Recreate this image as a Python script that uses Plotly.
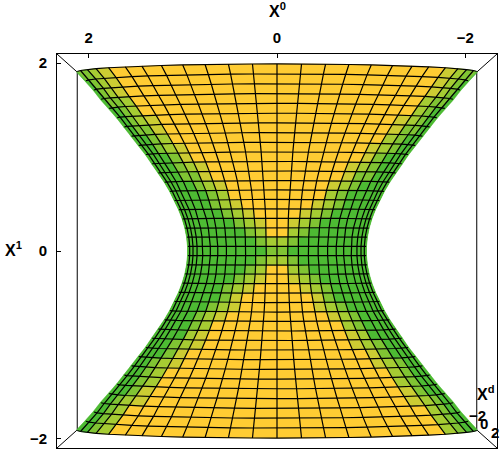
import plotly.graph_objects as go

# rows of the grid, upper half (X1 level and half width of that ring)
x1_upper = [0.051, 0.154, 0.256, 0.359, 0.462, 0.564, 0.667, 0.769, 0.872, 0.974,
            1.077, 1.179, 1.282, 1.385, 1.487, 1.590, 1.692, 1.795, 1.897, 2.0]
ring_upper = [1.00, 1.01, 1.03, 1.06, 1.10, 1.15, 1.20, 1.26, 1.33, 1.40,
              1.47, 1.55, 1.63, 1.71, 1.79, 1.88, 1.97, 2.05, 2.14, 2.236]

# meridians: share of the ring width across, and share of it towards the viewer
col_across = [0.0, 0.117, 0.232, 0.344, 0.452, 0.556, 0.652, 0.735, 0.82, 0.885, 0.932, 0.971, 0.993, 1.0]
col_depth = [1.0, 0.993, 0.971, 0.935, 0.885, 0.823, 0.749, 0.663, 0.568, 0.465, 0.355, 0.240, 0.120, 0.0]

# colour steps of |X0|-|X1|
step_edges = [-0.14, -0.05, 0.05, 0.16]
step_colors = ['#FFCC33', '#CCCC33', '#A6CC33', '#80C433', '#4DBB33']

tick_vals = [2, 0, -2]
tick_text = ['2', '0', '\u22122']

box_x = 2.337
box_y = 2.098
far_scale = 0.908
persp_a = 1.052
persp_b = 0.0215

rows_x1 = [-v for v in reversed(x1_upper)] + x1_upper
rows_w = list(reversed(ring_upper)) + ring_upper
cols_f = [-v for v in reversed(col_across[1:])] + col_across
cols_g = list(reversed(col_depth[1:])) + col_depth


def project(i, j):
    z = rows_w[i] * cols_g[j]
    s = 1 / (persp_a - persp_b * z)
    return rows_w[i] * cols_f[j] * s, rows_x1[i] * s


def cell_color(i, j):
    x0 = abs(rows_w[i] * (cols_f[j] + cols_f[j + 1]) / 2)
    x1 = abs(rows_x1[i] + rows_x1[i + 1]) / 2
    t = x0 - x1
    k = 0
    for e in step_edges:
        if t > e:
            k += 1
    return step_colors[k]


fig = go.Figure()

# back of the box
fx, fy = box_x * far_scale, box_y * far_scale
frame_x, frame_y = [], []
for sx in (-1, 1):
    frame_x += [sx * fx, sx * fx, None]
    frame_y += [fy, -fy, None]
    for sy in (-1, 1):
        frame_x += [sx * box_x, sx * fx, None]
        frame_y += [sy * box_y, sy * fy, None]
fig.add_trace(go.Scatter(x=frame_x, y=frame_y, mode='lines', line=dict(color='black', width=1), hoverinfo='skip'))

# cells, one trace per colour
cells = {c: ([], []) for c in step_colors}
for i in range(len(rows_x1) - 1):
    for j in range(len(cols_f) - 1):
        xs, ys = cells[cell_color(i, j)]
        for a, b in [(i, j), (i, j + 1), (i + 1, j + 1), (i + 1, j), (i, j)]:
            px, py = project(a, b)
            xs.append(px)
            ys.append(py)
        xs.append(None)
        ys.append(None)
for c in step_colors:
    fig.add_trace(go.Scatter(x=cells[c][0], y=cells[c][1], mode='lines', fill='toself', fillcolor=c,
                             line=dict(color=c, width=0.6), hoverinfo='skip'))

# grid lines, none along the very edge of the surface
grid_x, grid_y = [], []
for i in range(len(rows_x1)):
    for j in range(1, len(cols_f) - 1):
        px, py = project(i, j)
        grid_x.append(px)
        grid_y.append(py)
    grid_x.append(None)
    grid_y.append(None)
for j in range(2, len(cols_f) - 2):
    for i in range(len(rows_x1)):
        px, py = project(i, j)
        grid_x.append(px)
        grid_y.append(py)
    grid_x.append(None)
    grid_y.append(None)
fig.add_trace(go.Scatter(x=grid_x, y=grid_y, mode='lines', line=dict(color='black', width=1.2), hoverinfo='skip'))

# paper position of a pixel
def paper_x(px):
    return (px - 56.5) / 440.2


def paper_y(py):
    return (448 - py) / 394


title_font = dict(family='Liberation Sans', size=16, color='black', weight='bold')
tick_font = dict(family='Liberation Sans', size=15, color='black', weight='bold')
labels = [('X<sup>0</sup>', 277, 10, title_font), ('X<sup>1</sup>', 13, 249, title_font),
          ('X<sup>d</sup>', 486, 393, title_font),
          ('\u22122', 477, 415, tick_font), ('0', 484, 423, tick_font), ('2', 495, 432, tick_font)]
for text, px, py, font in labels:
    fig.add_annotation(text=text, x=paper_x(px), y=paper_y(py), xref='paper', yref='paper',
                       showarrow=False, font=font, xanchor='center', yanchor='middle')

fig.update_xaxes(range=[box_x, -box_x], side='top', tickvals=tick_vals, ticktext=tick_text, ticks='inside',
                 ticklen=4, tickcolor='black', tickwidth=1, showline=True, mirror=True, linecolor='black',
                 linewidth=1, showgrid=False, zeroline=False, tickfont=tick_font, ticklabelstandoff=4)
fig.update_yaxes(range=[-box_y, box_y], tickvals=tick_vals, ticktext=tick_text, ticks='inside',
                 ticklen=4, tickcolor='black', tickwidth=1, showline=True, mirror=True, linecolor='black',
                 linewidth=1, showgrid=False, zeroline=False, tickfont=tick_font, ticklabelstandoff=6)
fig.update_layout(width=503, height=450, margin=dict(l=56.5, r=6.3, t=54, b=2), showlegend=False,
                  paper_bgcolor='white', plot_bgcolor='white')

fig.write_html("out.html", config={'displayModeBar': False},
               post_script="document.body.style.margin='0';")
